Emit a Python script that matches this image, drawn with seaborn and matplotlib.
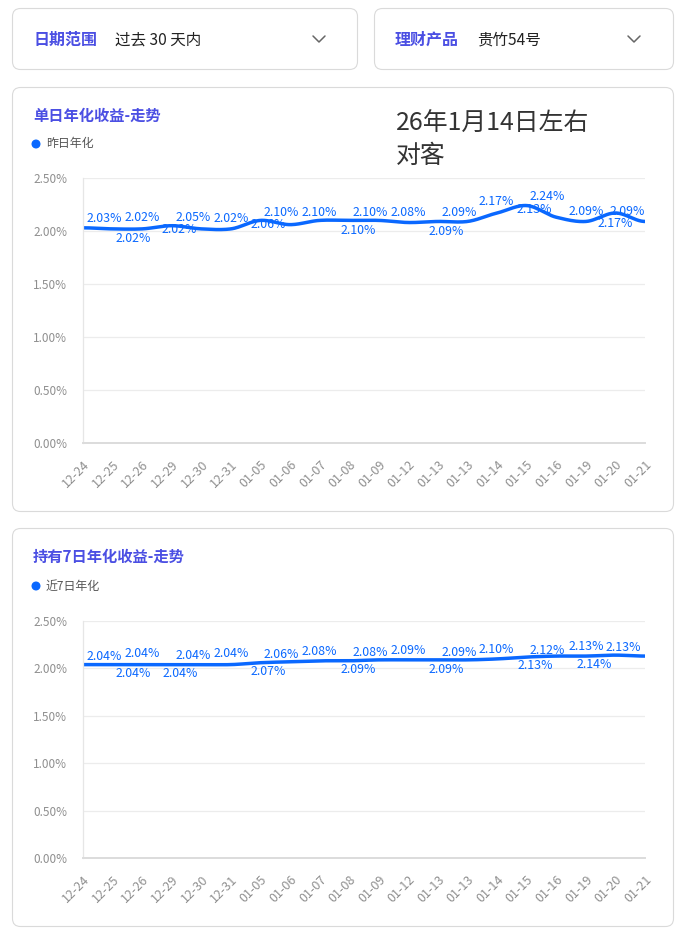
import numpy as np
import pandas as pd
import matplotlib
matplotlib.use("Agg")
import matplotlib.pyplot as plt
import seaborn as sns
from matplotlib.patches import FancyBboxPatch, Circle
from matplotlib.ticker import FuncFormatter

# ---------------- data ----------------
dates = ["12-24", "12-25", "12-26", "12-29", "12-30", "12-31", "01-05", "01-06",
         "01-07", "01-08", "01-09", "01-12", "01-13", "01-13", "01-14", "01-15",
         "01-16", "01-19", "01-20", "01-21"]
daily_yield = [2.03, 2.02, 2.02, 2.05, 2.02, 2.02, 2.10, 2.06, 2.10, 2.10,
               2.10, 2.08, 2.09, 2.09, 2.17, 2.24, 2.13, 2.09, 2.17, 2.09]
seven_day_yield = [2.04, 2.04, 2.04, 2.04, 2.04, 2.04, 2.06, 2.07, 2.08, 2.08,
                   2.09, 2.09, 2.09, 2.09, 2.10, 2.12, 2.13, 2.13, 2.14, 2.13]
y_ticks = [0.0, 0.5, 1.0, 1.5, 2.0, 2.5]

filter1_label, filter1_value = "日期范围", "过去 30 天内"
filter2_label, filter2_value = "理财产品", "贵竹54号"
title1, legend1 = "单日年化收益-走势", "昨日年化"
title2, legend2 = "持有7日年化收益-走势", "近7日年化"
note_lines = ["26年1月14日左右", "对客"]

# ---------------- style ----------------
# label offsets in pixels (dx right, dy down) relative to each point
lab_dx1 = [21, 21, 0, 21, -22, 0, 21, -22, 0, 21, -21, 0, 21, -21, -1, 21, -22, 0, 0, -18]
lab_dy1 = [-9, 10, -11, -8, 1, -10, -8, 0, -8, -8, 10, -10, -9, 10, -11, -9, -8, -9.5, 11, -9.5]
lab_dx2 = [21, 21, 0, 21, -21, 0, 21, -22, 0, 21, -21, 0, 21, -21, -1, 21, -21, 0, -21, -22]
lab_dy2 = [-8, 9, -11, -9, 9, -11, -8, 10, -9.5, -8.5, 9.5, -9.5, -7.5, 9.5, -9.5, -7, 9, -10, 9, -9]

BLUE = "#0a68ff"
TITLE = "#4b4fe3"
PX = 0.72  # points per pixel at dpi 100

sns.set_theme(style="white")
plt.rcParams["font.family"] = ["Noto Sans CJK SC", "DejaVu Sans"]
plt.rcParams["axes.unicode_minus"] = False

W, H = 684, 933
fig = plt.figure(figsize=(W / 100, H / 100), dpi=100)
fig.patch.set_facecolor("white")

bg = fig.add_axes([0, 0, 1, 1], zorder=0)
bg.set_xlim(0, W)
bg.set_ylim(H, 0)
bg.axis("off")


def card(x, y, w, h):
    bg.add_patch(FancyBboxPatch((x, y), w, h, boxstyle="round,pad=0,rounding_size=8",
                                fc="white", ec="#dadada", lw=0.8))


card(12.5, 8.5, 345, 61)
card(374.5, 8.5, 299, 61)
card(12.5, 87.5, 661, 424)
card(12.5, 528.5, 661, 398)


def chevron(cx, cy):
    bg.plot([cx - 6, cx, cx + 6], [cy - 3, cy + 3, cy - 3], color="#666666", lw=1.1,
            solid_capstyle="round", solid_joinstyle="round")


bg.text(33, 40, filter1_label, fontsize=11.5, color=TITLE, fontweight="bold", va="center")
bg.text(115, 40, filter1_value, fontsize=11.2, color="#222222", va="center")
chevron(319, 39)
bg.text(395, 40, filter2_label, fontsize=11.5, color=TITLE, fontweight="bold", va="center")
bg.text(477, 40, filter2_value, fontsize=11.2, color="#222222", va="center")
chevron(634, 39)

for ty, ly, t, lg in [(116, 144, title1, legend1), (557, 586, title2, legend2)]:
    bg.text(33, ty, t, fontsize=11.0, color=TITLE, fontweight="bold", va="center")
    bg.add_patch(Circle((36, ly), 3.8, color=BLUE))
    bg.text(46, ly, lg, fontsize=8.6, color="#555555", va="center")

bg.text(396, 124, note_lines[0], fontsize=17.9, color="#333333", va="center")
bg.text(396, 156, note_lines[1], fontsize=17.9, color="#333333", va="center")


def smooth_curve(xs, ys, n=24):
    xs = np.asarray(xs, float)
    ys = np.asarray(ys, float)
    m = np.zeros_like(ys)
    m[1:-1] = (ys[2:] - ys[:-2]) / 2.0 * 0.9
    out_x, out_y = [], []
    for i in range(len(xs) - 1):
        t = np.linspace(0, 1, n, endpoint=False)
        h00 = 2 * t**3 - 3 * t**2 + 1
        h10 = t**3 - 2 * t**2 + t
        h01 = -2 * t**3 + 3 * t**2
        h11 = t**3 - t**2
        out_x.extend(xs[i] + t * (xs[i + 1] - xs[i]))
        out_y.extend(h00 * ys[i] + h10 * m[i] + h01 * ys[i + 1] + h11 * m[i + 1])
    out_x.append(xs[-1])
    out_y.append(ys[-1])
    return np.array(out_x), np.array(out_y)


def chart(rect, values, dxs, dys):
    ax = fig.add_axes(rect, zorder=1)
    ax.set_facecolor("none")
    idx = np.arange(len(dates))
    sx, sy = smooth_curve(idx, values)
    df = pd.DataFrame({"x": sx, "y": sy})
    sns.lineplot(data=df, x="x", y="y", ax=ax, color=BLUE, linewidth=2.5,
                 sort=False, estimator=None)
    for i, v in enumerate(values):
        ax.annotate(f"{v:.2f}%", xy=(i, v), xytext=(dxs[i] * PX, -dys[i] * PX),
                    textcoords="offset points", ha="center", va="center",
                    fontsize=8.9, color=BLUE, annotation_clip=False, zorder=5)
    ax.set_xlim(0, len(dates) - 1)
    ax.set_ylim(y_ticks[0], y_ticks[-1])
    ax.set_yticks(y_ticks)
    ax.yaxis.set_major_formatter(FuncFormatter(lambda v, p: f"{v:.2f}%"))
    ax.set_xticks(idx)
    ax.set_xticklabels(dates, rotation=45, ha="right", va="top", rotation_mode="anchor")
    ax.grid(axis="y", color="#ececec", lw=0.9)
    ax.grid(axis="x", visible=False)
    ax.set_axisbelow(True)
    ax.tick_params(axis="y", length=0, pad=11.5, labelsize=8.5, labelcolor="#8f8f8f")
    ax.tick_params(axis="x", length=0, pad=11, labelsize=9.0, labelcolor="#8f8f8f")
    for s in ["top", "right"]:
        ax.spines[s].set_visible(False)
    ax.spines["left"].set_color("#e6e6e6")
    ax.spines["left"].set_linewidth(0.9)
    ax.spines["bottom"].set_color("#dcdcdc")
    ax.spines["bottom"].set_linewidth(1.4)
    ax.set_xlabel("")
    ax.set_ylabel("")
    return ax


chart([83 / W, 1 - 443 / H, 562 / W, 265 / H], daily_yield, lab_dx1, lab_dy1)
chart([83 / W, 1 - 858 / H, 562 / W, 237 / H], seven_day_yield, lab_dx2, lab_dy2)

fig.savefig("out.png", dpi=100, facecolor="white")
